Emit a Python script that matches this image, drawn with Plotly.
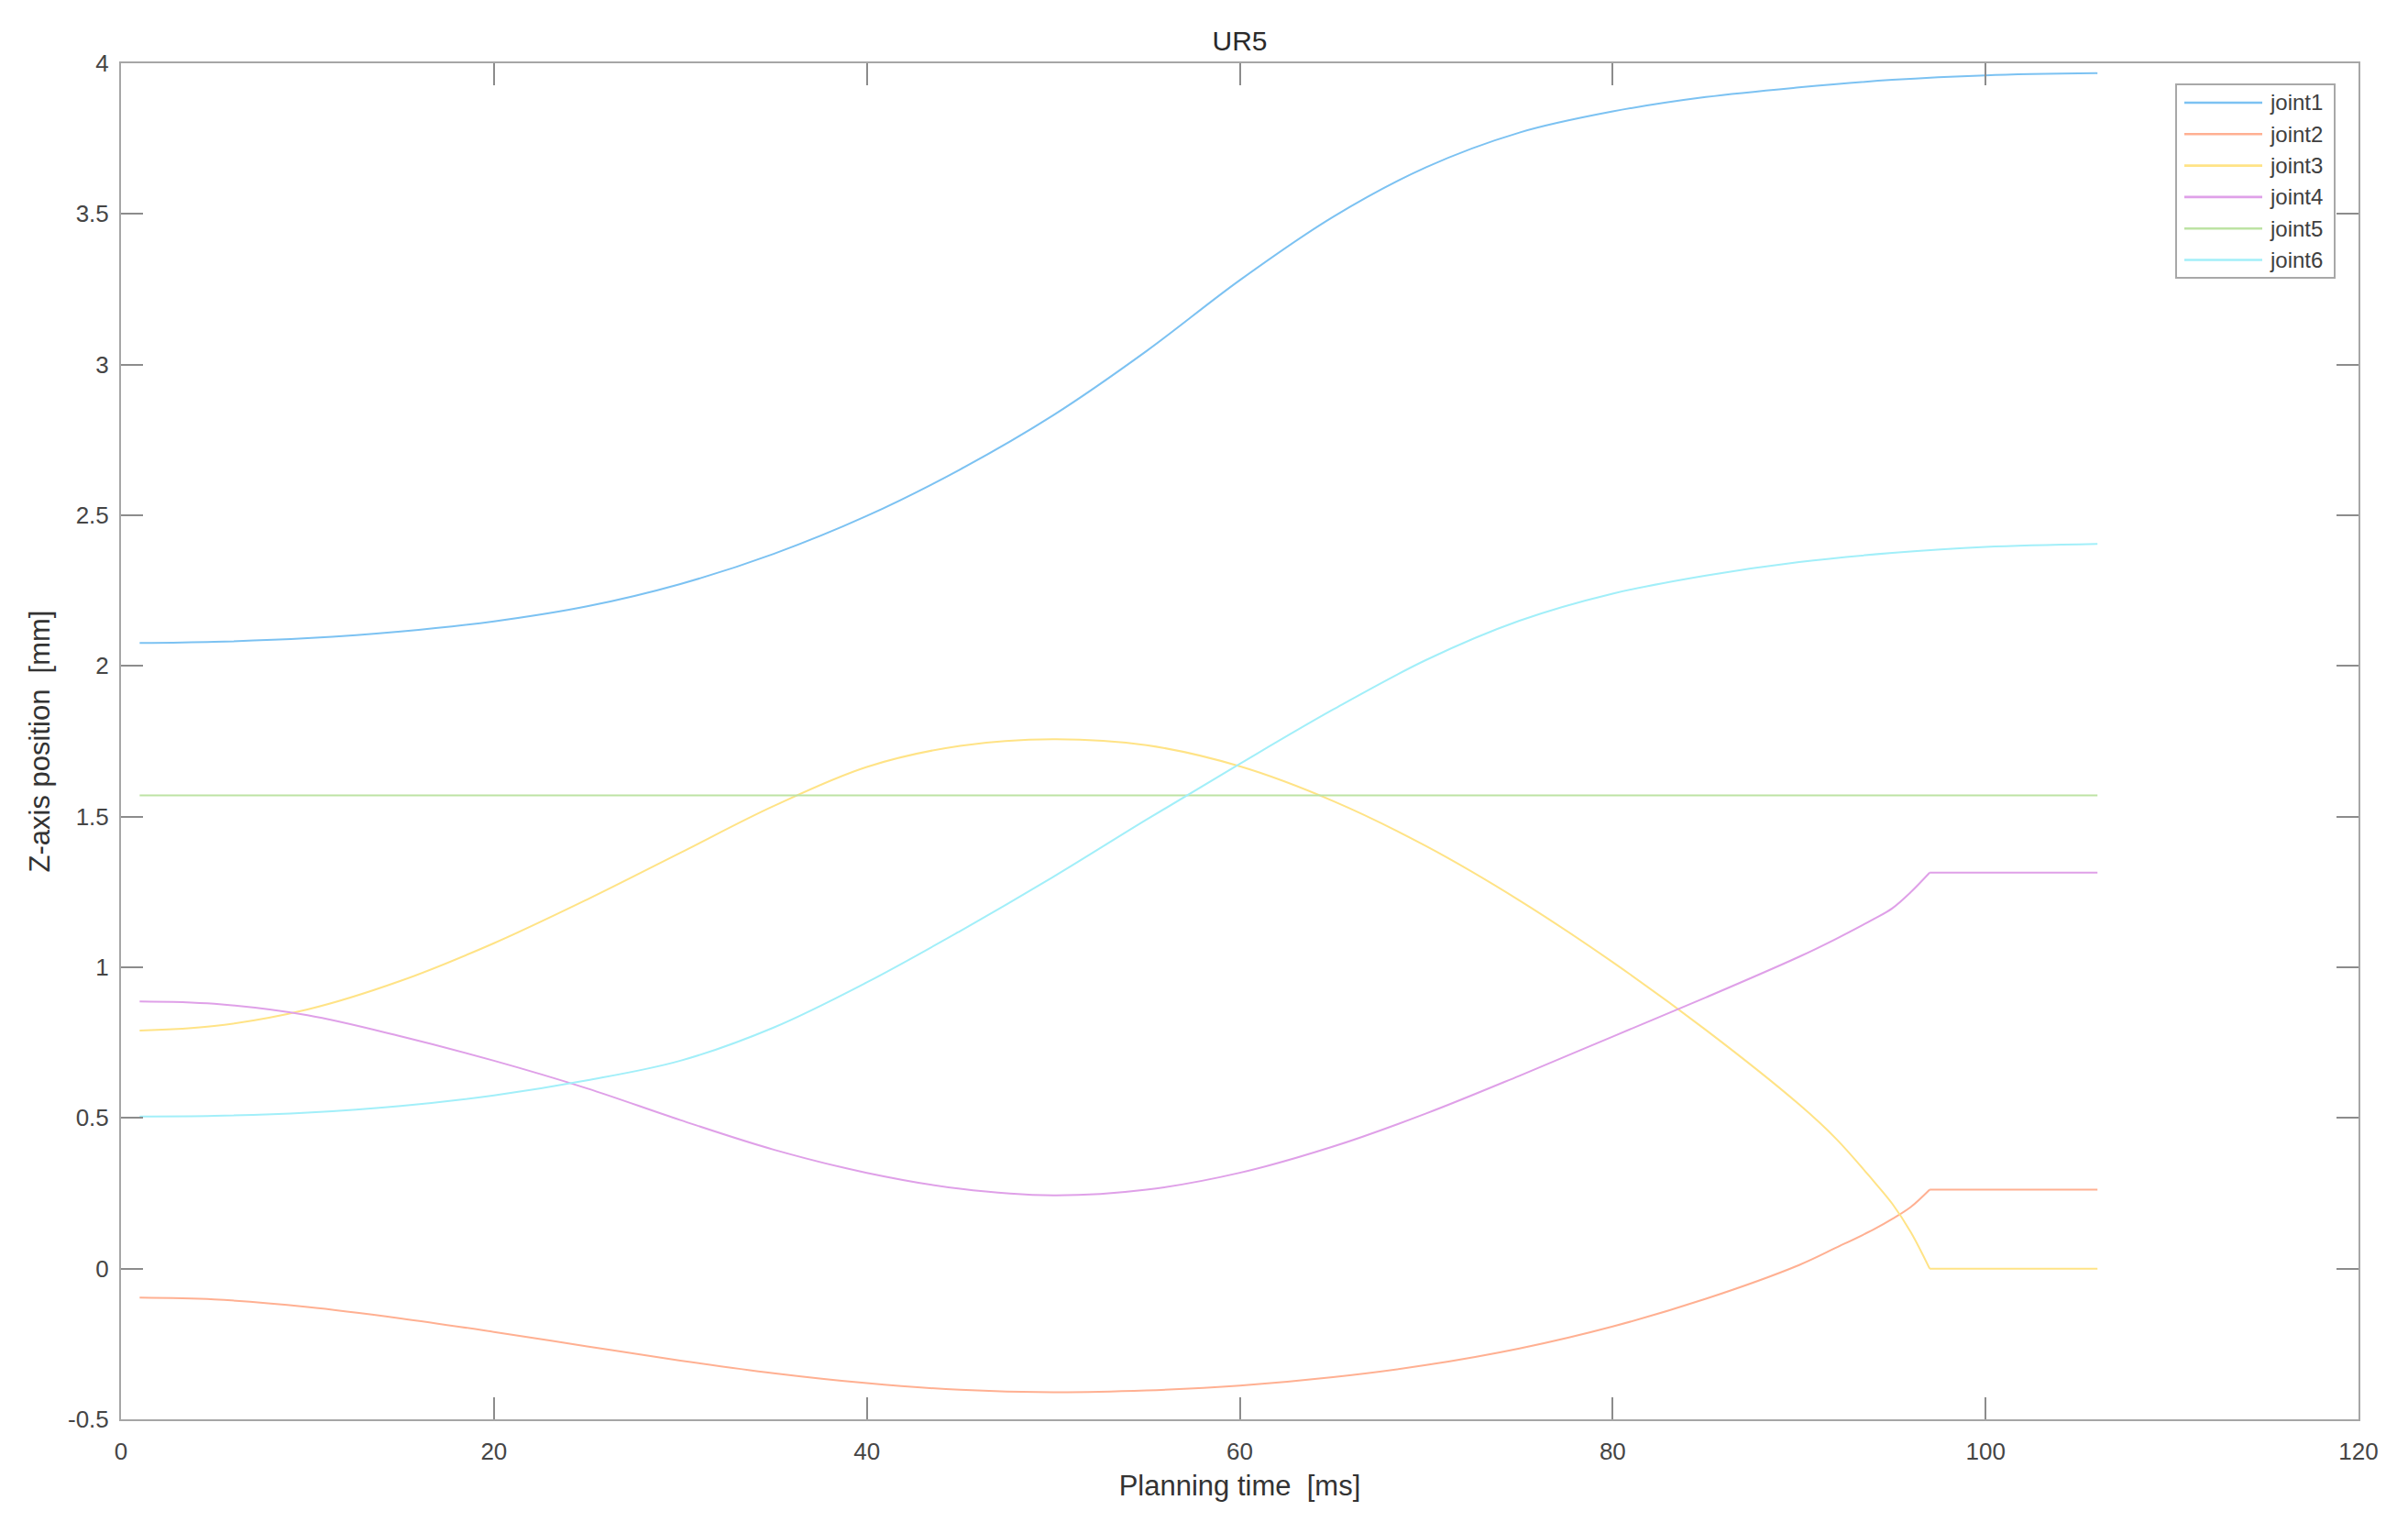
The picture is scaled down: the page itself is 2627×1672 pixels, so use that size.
import plotly.graph_objects as go

# ---------------- data ----------------
series_names = ["joint1", "joint2", "joint3", "joint4", "joint5", "joint6"]
series_colors = ["#7cc2f2", "#ffb092", "#ffe386", "#dfa0e8", "#bde3a4", "#a2eff9"]

# joint1 and joint6 are smooth over the whole interval
x_full = [1, 5, 10, 15, 20, 25, 30, 35, 40, 45, 50, 55, 60, 65, 70, 75, 80, 85, 90, 95, 100, 106]
joint1 = [2.076, 2.080, 2.092, 2.114, 2.148, 2.198, 2.272, 2.372, 2.498, 2.652, 2.832, 3.045, 3.280, 3.490,
          3.655, 3.770, 3.840, 3.888, 3.920, 3.945, 3.960, 3.967]
joint6 = [0.505, 0.507, 0.518, 0.540, 0.575, 0.625, 0.690, 0.800, 0.950, 1.120, 1.300, 1.490, 1.675, 1.855,
          2.020, 2.150, 2.240, 2.300, 2.345, 2.375, 2.395, 2.405]

# joint2..joint4 move until t = 97, then hold
x_move = [1, 5, 10, 15, 20, 25, 30, 35, 40, 45, 50, 55, 60, 65, 70, 75, 80, 85, 90, 92, 94, 95, 96, 97]
joint2 = [-0.096, -0.102, -0.127, -0.165, -0.210, -0.258, -0.305, -0.347, -0.380, -0.402, -0.410, -0.404,
          -0.388, -0.360, -0.320, -0.265, -0.192, -0.100, 0.012, 0.070, 0.130, 0.165, 0.205, 0.262]
joint3 = [0.790, 0.805, 0.860, 0.955, 1.080, 1.225, 1.380, 1.535, 1.665, 1.735, 1.757, 1.737, 1.667, 1.552,
          1.402, 1.222, 1.017, 0.792, 0.545, 0.430, 0.290, 0.215, 0.120, 0.000]
joint4 = [0.887, 0.879, 0.841, 0.771, 0.690, 0.598, 0.493, 0.395, 0.318, 0.265, 0.243, 0.262, 0.318, 0.405,
          0.515, 0.640, 0.770, 0.900, 1.035, 1.095, 1.160, 1.196, 1.250, 1.314]
x_hold = [97, 106]
joint2_hold = [0.262, 0.262]
joint3_hold = [0.000, 0.000]
joint4_hold = [1.314, 1.314]

x_const = [1, 106]
joint5 = [1.5708, 1.5708]

x_tick_vals = [0, 20, 40, 60, 80, 100, 120]
x_tick_text = ["0", "20", "40", "60", "80", "100", "120"]
y_tick_vals = [-0.5, 0, 0.5, 1, 1.5, 2, 2.5, 3, 3.5, 4]
y_tick_text = ["-0.5", "0", "0.5", "1", "1.5", "2", "2.5", "3", "3.5", "4"]

title_text = "UR5"
x_title = "Planning time \u00a0[ms]"
y_title = "Z-axis position \u00a0[mm]"

# ---------------- figure ----------------
W, H = 2627, 1672
OFF = 8  # page offset of the figure inside the browser window
# target plot-area edges in window pixels: left 132, right 2573, top 69, bottom 1548
L, T = 132 - OFF, 69 - OFF
R, B = W + OFF - 2573, H + OFF - 1548
FONT = "Liberation Sans, Arial, sans-serif"
LW = 2.0

fig = go.Figure()

def add(x, y, i, shape="spline"):
    fig.add_trace(go.Scatter(x=x, y=y, mode="lines", name=series_names[i],
                             line=dict(color=series_colors[i], width=LW, shape=shape, smoothing=1.0),
                             showlegend=False, hoverinfo="skip"))

add(x_full, joint1, 0)
add(x_move, joint2, 1)
add(x_hold, joint2_hold, 1, "linear")
add(x_move, joint3, 2)
add(x_hold, joint3_hold, 2, "linear")
add(x_move, joint4, 3)
add(x_hold, joint4_hold, 3, "linear")
add(x_const, joint5, 4, "linear")
add(x_full, joint6, 5)

axis_common = dict(showline=True, linecolor="#a6a6a6", linewidth=2, mirror="ticks",
                   ticks="inside", ticklen=24, tickwidth=2, tickcolor="#8c8c8c",
                   showgrid=False, zeroline=False, automargin=False,
                   tickfont=dict(family=FONT, size=26, color="#454545"),
                   title_font=dict(family=FONT, size=31, color="#333333"))

fig.update_xaxes(range=[0, 120], tickvals=x_tick_vals, ticktext=x_tick_text,
                 title_text=x_title, title_standoff=12, ticklabelstandoff=11, **axis_common)
fig.update_yaxes(range=[-0.5, 4], tickvals=y_tick_vals, ticktext=y_tick_text,
                 title_text=y_title, title_standoff=10, ticklabelstandoff=6, **axis_common)

# ---- legend box drawn in pixel-derived paper coordinates (window pixels) ----
pw, ph = W - L - R, H - T - B
def px(xp):
    return (xp - OFF - L) / pw
def py(yp):
    return 1 - (yp - OFF - T) / ph

shapes = [dict(type="rect", xref="paper", yref="paper",
               x0=px(2374), x1=px(2547), y0=py(303), y1=py(92),
               line=dict(color="#a8a8a8", width=2), fillcolor="white", layer="above")]
annotations = []
for i, name in enumerate(series_names):
    yc = 112 + i * 34.3
    shapes.append(dict(type="line", xref="paper", yref="paper",
                       x0=px(2383), x1=px(2468), y0=py(yc), y1=py(yc),
                       line=dict(color=series_colors[i], width=LW + 0.6), layer="above"))
    annotations.append(dict(text=name, xref="paper", yref="paper", x=px(2474), y=py(yc),
                            xanchor="left", yanchor="middle", showarrow=False,
                            font=dict(family=FONT, size=24, color="#404040")))

fig.update_layout(
    width=W, height=H,
    margin=dict(l=L, r=R, t=T, b=B),
    paper_bgcolor="white", plot_bgcolor="white",
    title=dict(text=title_text, x=(L + pw / 2) / W, xanchor="center",
               y=1 - 36 / H, yanchor="middle",
               font=dict(family=FONT, size=30, color="#2a2a2a")),
    shapes=shapes, annotations=annotations,
    showlegend=False,
)

fig.write_html("out.html")
